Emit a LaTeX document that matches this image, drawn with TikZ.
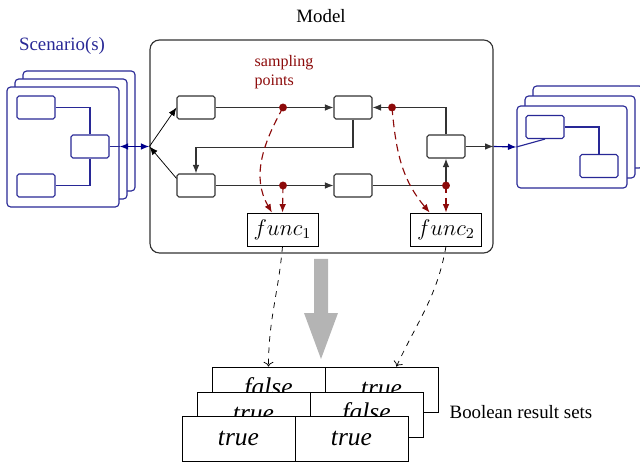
\documentclass[tikz,border=0pt]{standalone}
\usepackage{fontspec}
\setmainfont{Liberation Serif}
\usetikzlibrary{arrows.meta,calc,positioning}
\definecolor{xRed}{RGB}{140,10,10}
\definecolor{xBlue}{RGB}{40,40,150}
\definecolor{xNavy}{RGB}{0,0,140}
\definecolor{xGray}{RGB}{180,180,180}
\definecolor{xLine}{RGB}{50,50,50}

\tikzset{
  blk/.style={draw=xLine, semithick, rounded corners=1pt, fill=white, minimum width=20.1pt, minimum height=12.2pt, inner sep=0pt},
  sblk/.style={draw=xBlue, semithick, rounded corners=1pt, fill=white, minimum width=20.1pt, minimum height=12.2pt, inner sep=0pt},
  card/.style={draw=xBlue, semithick, rounded corners=2pt, fill=white, inner sep=0pt},
  fn/.style={draw=black, fill=white, minimum width=37.6pt, minimum height=17.5pt, inner sep=0pt, font=\large},
  cell/.style={draw=black, fill=white, minimum width=59.9pt, minimum height=23.9pt, inner sep=0pt, font=\fontsize{13.5}{16}\selectfont\itshape},
  flow/.style={semithick, xLine, -{Latex[length=4.5pt,width=3.5pt]}},
  smp/.style={xRed, semithick, dash pattern=on 4pt off 2.5pt, -{Latex[length=4.5pt,width=3.5pt]}},
  res/.style={black, dashed, thin, -{To[length=2.5pt]}},
  dot/.style={circle, fill=xRed, inner sep=0pt, minimum size=4.2pt}
}

\begin{document}
\begin{tikzpicture}[x=0.53pt, y=-0.53pt]
    \useasboundingbox (0,0) rectangle (640,463);

    % model frame
    \node[draw=xLine, semithick, rounded corners=5pt, minimum width=181.8pt, minimum height=112.9pt] (model) at (321.5,146.5) {};
    \node (mlabel) at (321,16) {Model};

    % scenario cards, left
    \node[text=xBlue] (slabel) at (62,46) {Scenario(s)};
    \foreach \i/\d in {2/16,1/8,0/0} {
      \node[card, minimum width=59.4pt, minimum height=63.6pt] (lc\i) at (63+\d,147-\d) {};
    }
    \node[sblk] (lA) at (36,107.5) {};
    \node[sblk] (lB) at (36,185.5) {};
    \node[sblk] (lC) at (90,146.5) {};
    \draw[xBlue, semithick] (lA.east) -| (lC.north);
    \draw[xBlue, semithick] (lB.east) -| (lC.south);
    \draw[xBlue, semithick] (lC.east) -- (lc0.east |- lC.east);
    \draw[xNavy, semithick, {Latex[length=4.5pt,width=3.5pt]}-{Latex[length=4.5pt,width=3.5pt]}] (lc0.east |- lC.east) -- (model.west);

    % scenario cards, right
    \foreach \i/\d in {2/16,1/8,0/0} {
      \node[card, minimum width=58.3pt, minimum height=43.5pt] (rc\i) at (572+\d,147-1.25*\d) {};
    }
    \node[sblk] (rA) at (545,127) {};
    \node[sblk] (rB) at (599,166) {};
    \draw[xBlue, semithick] (rA.east) -| (rB.north);

    % blocks inside the model
    \node[blk] (box1) at (196,107.5) {};
    \node[blk] (box2) at (353,107.5) {};
    \node[blk] (box3) at (446,146.5) {};
    \node[blk] (box4) at (196,185.5) {};
    \node[blk] (box5) at (353,185.5) {};
    \node[fn] (func1) at (282.5,229.5) {$func_1$};
    \node[fn] (func2) at (446,229.5) {$func_2$};

    \coordinate (s1) at (283,107.5);
    \coordinate (s2) at (283,185.5);
    \coordinate (s3) at (392,107.5);
    \coordinate (s4) at (446,185.5);

    \draw[-{Latex[length=4.5pt,width=3.5pt]}, thin] (model.west) -- (box1.west);
    \draw[-{Latex[length=4.5pt,width=3.5pt]}, thin] (box4.160) -- (model.west);
    \draw[flow] (box1) -- (box2);
    \draw[flow] (box4) -- (box5);
    \draw[flow] (box5.east) -- (s4) -- (box3.south);
    \draw[flow] (box3.north) |- (box2.east);
    \draw[flow] (box2.south) -- ++(0,28) -| (box4.north);
    \draw[flow] (box3.east) -- (model.east);
    \draw[xNavy, semithick, -{Latex[length=4.5pt,width=3.5pt]}] (model.east) -- (rc0.west);
    \draw[xBlue, semithick] (rc0.west) -- (rA.south);

    % sampling points
    \node[anchor=west, align=left, text=xRed, font=\fontsize{8.5}{10}\selectfont] (slbl) at (248,72) {sampling\\points};
    \draw[smp] (s1) to[out=-119,in=120] (func1.122);
    \draw[smp] (s2) -- (func1.north);
    \draw[smp] (s3) to[out=-85,in=130] (func2.134);
    \draw[smp] (s4) -- (func2.north);
    \foreach \s in {s1,s2,s3,s4} \node[dot] at (\s) {};

    % big arrow
    \fill[xGray] (314,259) -- (328,259) -- (328,313) -- (338,313) -- (321,359) -- (304,313) -- (314,313) -- cycle;

    % boolean result sets
    \foreach \i/\x/\y/\a/\b in {2/212/367/false/true, 1/197/392/true/false, 0/182/416/true/true} {
      \node[cell] (r\i l) at (\x+56.5,\y+22.5) {\a};
      \node[cell] (r\i r) at (\x+169.5,\y+22.5) {\b};
    }
    \node[anchor=west] (rlabel) at (443,412) {Boolean result sets};

    \draw[res] (func1.south) to[out=-95,in=90] (r2l.north);
    \draw[res] (func2.south) to[out=-100,in=65] (r2r.57);

\end{tikzpicture}
\end{document}
